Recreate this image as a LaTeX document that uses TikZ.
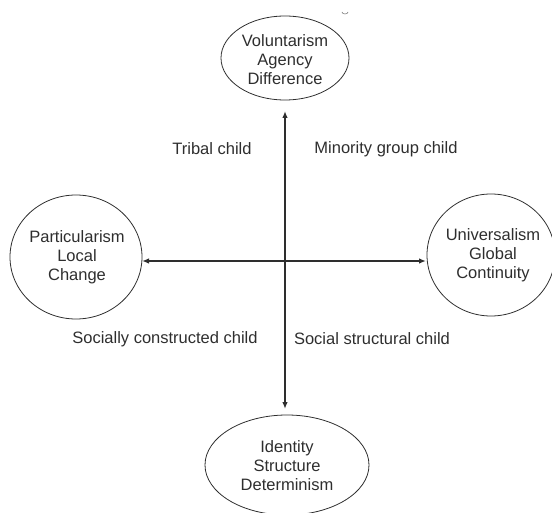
\documentclass[tikz,border=0pt]{standalone}
\usepackage{fontspec}
\setmainfont{Liberation Sans}
\usetikzlibrary{shapes.geometric,arrows.meta}
\definecolor{ink}{HTML}{2E2E2E}
\begin{document}
\begin{tikzpicture}[x=1pt,y=-1pt,
  lbl/.style={font=\fontsize{16.5}{19}\selectfont, text=ink, align=center, inner sep=0pt},
  oval/.style={draw=ink, line width=0.8pt, ellipse, inner sep=0pt},
  axis/.style={draw=ink, line width=1.6pt, {Latex[length=7pt,width=5.5pt]}-{Latex[length=7pt,width=5.5pt]}}]
\useasboundingbox (0,0) rectangle (552,513);
\node[oval, minimum width=128pt, minimum height=84pt] (top) at (285,58) {};
\node[lbl] (toptxt) at (285,60) {Voluntarism\\Agency\\Difference};
\node[oval, minimum width=132pt, minimum height=124pt] (left) at (76,257) {};
\node[lbl] (lefttxt) at (77,257) {Particularism\\Local\\Change};
\node[oval, minimum width=128pt, minimum height=122pt] (right) at (491,255) {};
\node[lbl] (righttxt) at (493,255) {Universalism\\Global\\Continuity};
\node[oval, minimum width=164pt, minimum height=100pt] (bottom) at (287,465) {};
\node[lbl] (bottomtxt) at (287,466) {Identity\\Structure\\Determinism};
\coordinate (vt) at (285,111);
\coordinate (vb) at (285,409);
\coordinate (hl) at (142,261);
\coordinate (hr) at (426,261);
\draw[axis] (vt) -- (vb);
\draw[axis] (hl) -- (hr);
\node[lbl] (tribal) at (212,149) {Tribal child};
\node[lbl] (minority) at (386,149) {Minority group child};
\node[lbl] (socc) at (165,339) {Socially constructed child};
\node[lbl] (socs) at (372,339) {Social structural child};
\draw[gray, line width=0.6pt] (342,12) arc (180:360:3pt and 2pt);
\end{tikzpicture}
\end{document}
